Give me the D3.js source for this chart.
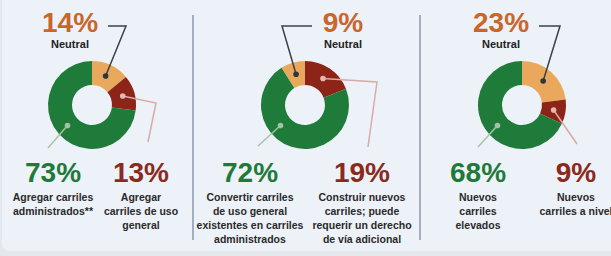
<!DOCTYPE html>
<html>
<head>
<meta charset="utf-8">
<script src="https://cdn.jsdelivr.net/npm/d3@7"></script>
<style>
  body { margin: 0; background: #e4e7ec; }
  svg { display: block; font-family: "Liberation Sans", Arial, sans-serif; }
</style>
</head>
<body>
<div class="chart"></div>
<script>
// values per chart (percent)
const neutralVals = [14, 9, 23];
const redVals = [13, 19, 9];
const greenVals = [73, 72, 68];

const neutralLabel = 'Neutral';
const redLabels = [
  ['Agregar', 'carriles de uso', 'general'],
  ['Construir nuevos', 'carriles; puede', 'requerir un derecho', 'de vía adicional'],
  ['Nuevos', 'carriles a nivel'],
];
const greenLabels = [
  ['Agregar carriles', 'administrados**'],
  ['Convertir carriles', 'de uso general', 'existentes en carriles', 'administrados'],
  ['Nuevos', 'carriles', 'elevados'],
];

const colors = {
  neutral: '#e9a85b',
  red: '#8c2418',
  green: '#1f7b3a',
  neutralText: '#c8662b',
  redText: '#8a2a1d',
  greenText: '#1f7a3a',
};

// layout per chart
const layout = [
  {
    cx: 92, start: 0,
    topX: -22, greenX: -39, redX: 49,
    nLine: [[34, -79], [16, -79]],
    rLine: [[64, -2], [56, 37]],
    gLine: [[-44, 43]],
  },
  {
    cx: 305, start: -9,
    topX: 38, greenX: -55, redX: 57,
    nLine: [[-23, -79], [7, -79]],
    rLine: [[72, -23], [63, 42]],
    gLine: [[-47, 41]],
  },
  {
    cx: 522, start: 0,
    topX: -21, greenX: -44, redX: 54,
    nLine: [[38, -79], [17, -79]],
    rLine: [[55, 39]],
    gLine: [[-44, 42]],
  },
];

const width = 611, height = 256;
const cy = 105, rOuter = 44, rInner = 20;

const svg = d3.select('.chart').append('svg')
  .attr('width', width)
  .attr('height', height);

// card
svg.append('rect')
  .attr('x', 2).attr('y', -10)
  .attr('width', width + 10).attr('height', 261)
  .attr('rx', 7)
  .attr('fill', '#edf1f8');

// dividers
[193, 420].forEach((x) => {
  svg.append('line')
    .attr('x1', x).attr('x2', x)
    .attr('y1', 15).attr('y2', 240)
    .attr('stroke', '#8a98ae')
    .attr('stroke-width', 1.5);
});

const arc = d3.arc().innerRadius(rInner).outerRadius(rOuter);
const dotArc = d3.arc().innerRadius(32).outerRadius(32);

layout.forEach((l, i) => {
  const data = [
    { key: 'neutral', value: neutralVals[i] },
    { key: 'red', value: redVals[i] },
    { key: 'green', value: greenVals[i] },
  ];
  const a0 = l.start / 100 * 2 * Math.PI;
  const pie = d3.pie()
    .sort(null)
    .value((d) => d.value)
    .startAngle(a0)
    .endAngle(a0 + 2 * Math.PI);
  const arcs = pie(data);

  const g = svg.append('g').attr('transform', `translate(${l.cx},${cy})`);

  g.selectAll('path')
    .data(arcs)
    .enter()
    .append('path')
    .attr('d', arc)
    .attr('fill', (d) => colors[d.data.key]);

  // leader lines
  const dotPos = {
    neutral: dotArc.centroid(arcs[0]),
    red: dotArc.centroid(arcs[1]),
    green: [32 * Math.sin(230 * Math.PI / 180), -32 * Math.cos(230 * Math.PI / 180)],
  };
  const lines = [
    { key: 'neutral', pts: l.nLine, stroke: '#3a4148', dot: '#2b3641' },
    { key: 'red', pts: l.rLine, stroke: '#d9aaa8', dot: '#e2b8b6' },
    { key: 'green', pts: l.gLine, stroke: '#a8c3a8', dot: '#a3c2a3' },
  ];
  lines.forEach((ln) => {
    const pts = [dotPos[ln.key]].concat(ln.pts);
    g.append('path')
      .attr('d', d3.line()(pts))
      .attr('fill', 'none')
      .attr('stroke', ln.stroke)
      .attr('stroke-width', 1.5);
    g.append('circle')
      .attr('cx', dotPos[ln.key][0])
      .attr('cy', dotPos[ln.key][1])
      .attr('r', 2.8)
      .attr('fill', ln.dot);
  });

  // top label
  g.append('text')
    .attr('x', l.topX).attr('y', 32 - cy)
    .attr('text-anchor', 'middle')
    .attr('font-size', 28).attr('font-weight', 'bold')
    .attr('fill', colors.neutralText)
    .text(neutralVals[i] + '%');
  g.append('text')
    .attr('x', l.topX).attr('y', 48 - cy)
    .attr('text-anchor', 'middle')
    .attr('font-size', 11).attr('font-weight', 'bold')
    .attr('fill', '#222')
    .text(neutralLabel);

  // bottom labels
  const bottom = [
    { x: l.greenX, val: greenVals[i], lines: greenLabels[i], fill: colors.greenText },
    { x: l.redX, val: redVals[i], lines: redLabels[i], fill: colors.redText },
  ];
  bottom.forEach((b) => {
    g.append('text')
      .attr('x', b.x).attr('y', 182 - cy)
      .attr('text-anchor', 'middle')
      .attr('font-size', 28).attr('font-weight', 'bold')
      .attr('fill', b.fill)
      .text(b.val + '%');
    g.selectAll(null)
      .data(b.lines)
      .enter()
      .append('text')
      .attr('x', b.x)
      .attr('y', (d, j) => 201 - cy + j * 14)
      .attr('text-anchor', 'middle')
      .attr('font-size', 10.5).attr('font-weight', 'bold')
      .attr('fill', '#2a2a2a')
      .text((d) => d);
  });
});
</script>
</body>
</html>
